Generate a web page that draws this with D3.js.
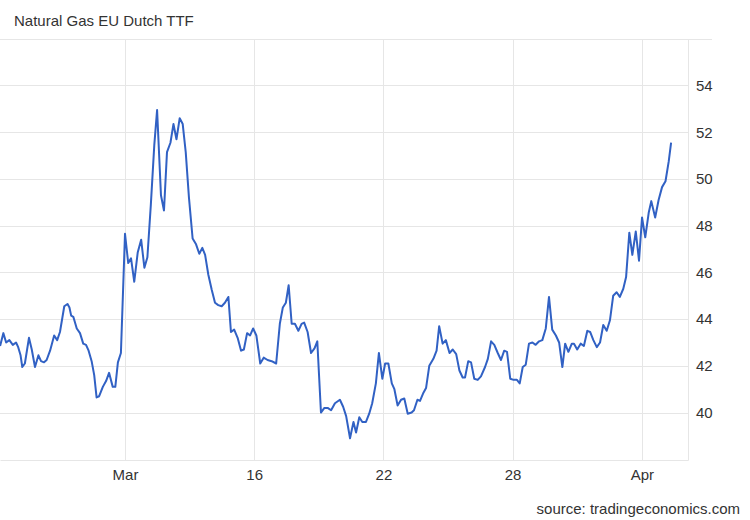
<!DOCTYPE html>
<html>
<head>
<meta charset="utf-8">
<script src="https://cdnjs.cloudflare.com/ajax/libs/d3/7.8.5/d3.min.js"></script>
<style>
  body { margin: 0; background: #fff; }
  text { font-family: "Liberation Sans", Arial, sans-serif; fill: #333; }
  .grid line { stroke: #e6e6e6; }
</style>
</head>
<body>
<div id="chart"></div>
<script>
var svgWidth = 750;
var svgHeight = 520;

// days since Mar 4
var days = [0.20, 0.35, 0.48, 0.63, 0.79, 0.94, 1.04, 1.15, 1.23, 1.35,
  1.54, 1.67, 1.82, 1.98, 2.10, 2.24, 2.36, 2.52, 2.71, 2.85,
  2.98, 3.18, 3.33, 3.42, 3.50, 3.60, 3.76, 3.91, 4.06, 4.19,
  4.31, 4.45, 4.57, 4.68, 4.80, 4.97, 5.12, 5.26, 5.43, 5.55,
  5.67, 5.81, 6.00, 6.15, 6.28, 6.43, 6.59, 6.75, 6.90, 7.04,
  7.20, 7.36, 7.49, 7.67, 7.81, 7.95, 8.11, 8.25, 8.39, 8.54,
  8.68, 8.82, 8.97, 9.14, 9.30, 9.45, 9.59, 9.72, 9.87, 10.03,
  10.18, 10.33, 10.49, 10.64, 10.80, 10.92, 11.07, 11.23, 11.39, 11.52,
  11.67, 11.81, 11.95, 12.10, 12.28, 12.44, 12.62, 12.81, 13.02, 13.19,
  13.33, 13.47, 13.60, 13.74, 13.89, 14.05, 14.20, 14.32, 14.48, 14.64,
  14.80, 14.93, 15.10, 15.26, 15.41, 15.57, 15.75, 15.98, 16.13, 16.27,
  16.45, 16.61, 16.73, 16.88, 17.02, 17.19, 17.34, 17.48, 17.65, 17.79,
  17.95, 18.08, 18.23, 18.39, 18.51, 18.66, 18.82, 18.97, 19.13, 19.31,
  19.42, 19.58, 19.70, 19.86, 19.98, 20.13, 20.32, 20.47, 20.59, 20.75,
  20.90, 21.07, 21.22, 21.38, 21.53, 21.68, 21.79, 21.94, 22.07, 22.22,
  22.38, 22.53, 22.72, 22.85, 23.00, 23.15, 23.31, 23.46, 23.61, 23.74,
  23.89, 24.05, 24.20, 24.33, 24.47, 24.61, 24.76, 24.92, 25.07, 25.23,
  25.38, 25.54, 25.69, 25.84, 26.01, 26.16, 26.31, 26.44, 26.59, 26.75,
  26.85, 27.00, 27.16, 27.31, 27.47, 27.60, 27.75, 27.91, 28.06, 28.21,
  28.37, 28.52, 28.67, 28.83, 28.98, 29.14, 29.27, 29.42, 29.56, 29.72,
  29.87, 30.01, 30.16, 30.32, 30.44, 30.62, 30.78, 30.94, 31.10, 31.25,
  31.36];

var prices = [42.85, 43.4, 43.0, 43.1, 42.9, 43.0, 42.8, 42.45, 41.95, 42.1,
  43.2, 42.7, 41.95, 42.45, 42.2, 42.15, 42.25, 42.65, 43.3, 43.1,
  43.45, 44.55, 44.65, 44.5, 44.15, 44.1, 43.6, 43.4, 42.95, 42.9,
  42.65, 42.2, 41.6, 40.65, 40.7, 41.1, 41.35, 41.7, 41.1, 41.1,
  42.15, 42.55, 47.65, 46.4, 46.6, 45.6, 46.85, 47.4, 46.2, 46.65,
  48.9, 51.45, 52.95, 49.3, 48.65, 51.15, 51.55, 52.35, 51.7, 52.6,
  52.35, 51.15, 49.2, 47.45, 47.2, 46.8, 47.05, 46.75, 45.9, 45.25,
  44.7, 44.6, 44.55, 44.7, 44.95, 43.45, 43.55, 43.2, 42.65, 42.7,
  43.4, 43.3, 43.6, 43.3, 42.1, 42.35, 42.25, 42.2, 42.1, 43.8,
  44.5, 44.7, 45.45, 43.8, 43.8, 43.5, 43.8, 43.85, 43.45, 42.55,
  42.75, 43.05, 40.0, 40.2, 40.2, 40.1, 40.4, 40.55, 40.25, 39.85,
  38.9, 39.6, 39.15, 39.8, 39.6, 39.6, 39.95, 40.4, 41.25, 42.55,
  41.45, 42.1, 42.1, 41.25, 41.0, 40.3, 40.55, 40.6, 39.95, 40.0,
  40.1, 40.55, 40.5, 40.85, 41.05, 42.0, 42.3, 42.65, 43.7, 42.95,
  43.1, 42.55, 42.7, 42.5, 41.8, 41.5, 41.5, 42.2, 42.15, 41.45,
  41.4, 41.55, 41.95, 42.3, 43.05, 42.9, 42.55, 42.25, 42.65, 42.6,
  41.45, 41.4, 41.4, 41.25, 41.95, 42.05, 42.95, 43.0, 42.9, 43.05,
  43.1, 43.6, 44.95, 43.55, 43.3, 43.0, 41.95, 42.95, 42.6, 42.95,
  42.95, 42.7, 42.95, 42.85, 43.5, 43.45, 43.1, 42.8, 43.0, 43.75,
  43.5, 43.95, 45.0, 45.15, 44.95, 45.3, 45.8, 47.7, 46.75, 47.75,
  46.5, 48.35, 47.5, 48.55, 49.05, 48.35, 49.1, 49.65, 49.9, 50.75,
  51.55];

var xTickDays = [6, 12, 18, 24, 30];
var xTickLabels = ["Mar", "16", "22", "28", "Apr"];
var yTicks = [40, 42, 44, 46, 48, 50, 52, 54];

var data = days.map(function(d, i) { return { day: d, price: prices[i] }; });

var plot = { left: 0, right: 688, top: 39, bottom: 460 };

var svg = d3.select("#chart")
  .append("svg")
  .attr("width", svgWidth)
  .attr("height", svgHeight);

var xScale = d3.scaleLinear()
  .domain([0.195, 32.145])
  .range([plot.left, plot.right]);

var yScale = d3.scaleLinear()
  .domain([37.97, 55.99])
  .range([plot.bottom, plot.top]);

// title
svg.append("text")
  .attr("x", 14)
  .attr("y", 26)
  .style("font-size", "15px")
  .text("Natural Gas EU Dutch TTF");

// top border line
svg.append("line")
  .attr("x1", 0).attr("x2", 712)
  .attr("y1", plot.top + 0.5).attr("y2", plot.top + 0.5)
  .attr("stroke", "#e6e6e6");

// horizontal grid
svg.append("g")
  .attr("class", "grid")
  .selectAll("line")
  .data(yTicks)
  .enter()
  .append("line")
  .attr("x1", plot.left).attr("x2", plot.right)
  .attr("y1", d => Math.round(yScale(d)) + 0.5)
  .attr("y2", d => Math.round(yScale(d)) + 0.5);

// vertical grid
svg.append("g")
  .attr("class", "grid")
  .selectAll("line")
  .data(xTickDays)
  .enter()
  .append("line")
  .attr("x1", d => Math.round(xScale(d)) + 0.5)
  .attr("x2", d => Math.round(xScale(d)) + 0.5)
  .attr("y1", plot.top).attr("y2", plot.bottom);

// right axis
var rightAxis = d3.axisRight(yScale)
  .tickValues(yTicks)
  .tickSize(0)
  .tickPadding(8);

var yAxisG = svg.append("g")
  .attr("transform", `translate(${plot.right}, 0)`)
  .call(rightAxis);
yAxisG.select(".domain").attr("stroke", "#e6e6e6");
yAxisG.selectAll("text").style("font-size", "15px").attr("fill", "#333");

// bottom axis
var bottomAxis = d3.axisBottom(xScale)
  .tickValues(xTickDays)
  .tickFormat((d, i) => xTickLabels[i])
  .tickSize(0)
  .tickPadding(9);

var xAxisG = svg.append("g")
  .attr("transform", `translate(0, ${plot.bottom})`)
  .call(bottomAxis);
xAxisG.select(".domain").attr("stroke", "#e6e6e6");
xAxisG.selectAll("text").style("font-size", "15px").attr("fill", "#333");

// price line
var line = d3.line()
  .x(d => xScale(d.day))
  .y(d => yScale(d.price));

svg.append("path")
  .datum(data)
  .attr("fill", "none")
  .attr("stroke", "#3161c4")
  .attr("stroke-width", 2)
  .attr("stroke-linejoin", "round")
  .attr("d", line);

// source
svg.append("text")
  .attr("x", 740)
  .attr("y", 514)
  .attr("text-anchor", "end")
  .style("font-size", "15px")
  .text("source: tradingeconomics.com");
</script>
</body>
</html>
